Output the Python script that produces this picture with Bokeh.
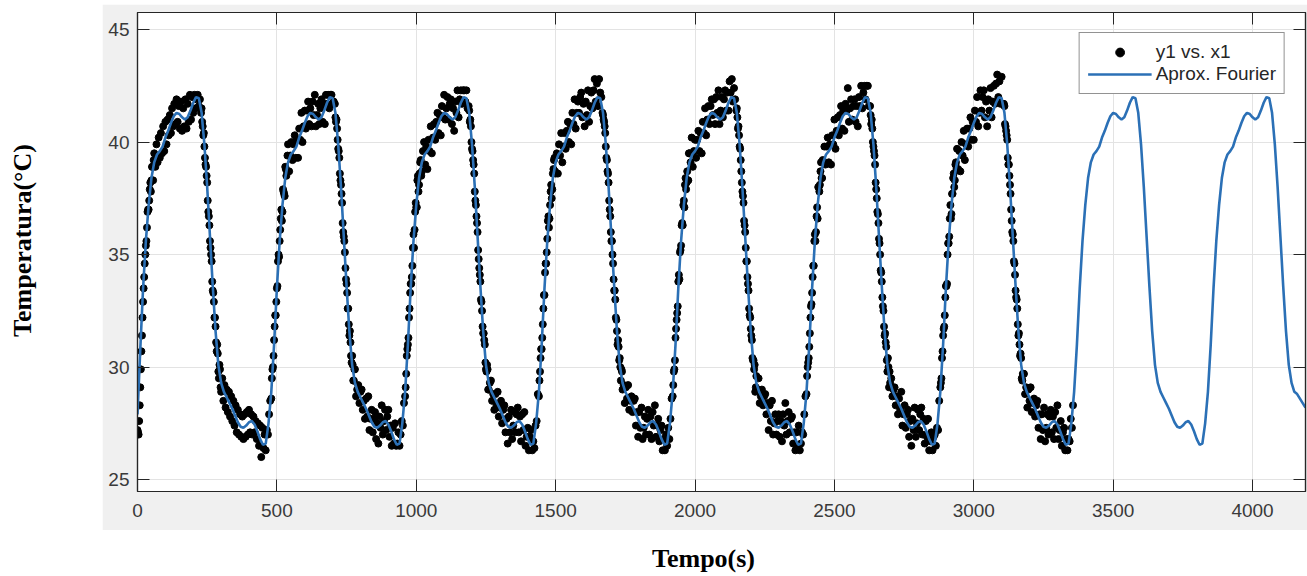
from bokeh.plotting import figure
from bokeh.models import Label, Legend, LegendItem, LinearAxis, FixedTicker, Spacer, Range1d
from bokeh.layouts import row, column
from bokeh.embed import file_html
from bokeh.resources import INLINE

# ---------------- data ----------------
x_ticks = [0, 500, 1000, 1500, 2000, 2500, 3000, 3500, 4000]
y_ticks = [25, 30, 35, 40, 45]

# measured samples (y1 vs. x1), one sample every 4 s
x1 = list(range(0, 3360, 4))
y1 = [
    # cycle 1
    27.2, 27.0, 28.3, 29.9, 31.4, 32.9, 34.0, 35.0, 35.6, 36.9, 37.0, 37.9, 37.8, 38.9, 38.3, 39.5, 38.9, 39.9, 39.1, 40.2,
    39.3, 40.4, 39.5, 40.7, 39.6, 40.9, 39.9, 41.0, 40.3, 41.2, 40.4, 41.5, 40.7, 41.7, 40.8, 41.9, 40.9, 41.6, 40.6, 41.8,
    40.5, 41.5, 40.7, 41.9, 40.6, 41.7, 40.9, 42.1, 41.0, 42.0, 41.3, 42.1, 41.5, 41.9, 42.1, 41.6, 41.9, 41.3, 40.9, 40.3,
    39.8, 39.0, 38.5, 37.4, 36.7, 35.6, 35.0, 33.8, 33.3, 32.2, 31.8, 30.7, 30.6, 29.5, 29.9, 28.9, 29.5, 28.5, 29.2, 28.2,
    29.0, 28.0, 28.9, 27.8, 28.7, 27.6, 28.5, 27.4, 28.3, 27.1, 28.1, 27.0, 27.9, 26.9, 27.8, 26.8, 27.9, 26.9, 28.0, 27.0,
    28.1, 27.1, 27.9, 27.0, 27.8, 27.1, 27.6, 26.8, 27.5, 26.5, 27.4, 26.0, 27.3, 26.4, 27.0, 26.3, 27.2, 27.0, 27.9, 28.5,
    # cycle 2
    28.6, 29.9, 30.5, 31.8, 32.3, 33.5, 34.7, 34.9, 36.1, 37.0, 36.9, 37.8, 37.6, 38.8, 38.7, 39.9, 38.7, 39.4, 40.0, 39.2,
    39.9, 40.3, 39.3, 40.1, 39.3, 40.6, 40.1, 41.3, 40.0, 40.7, 41.4, 40.6, 41.4, 41.8, 40.8, 41.5, 40.7, 41.8, 41.2, 42.1,
    40.7, 41.2, 41.7, 40.8, 41.5, 41.9, 40.9, 41.7, 40.8, 42.1, 41.7, 42.1, 41.5, 42.1, 42.1, 41.7, 41.8, 41.7, 40.9, 40.6,
    39.7, 39.3, 38.3, 37.7, 36.4, 35.8, 35.1, 33.9, 33.3, 32.6, 31.4, 31.1, 30.2, 30.1, 29.4, 29.9, 28.7, 29.0, 29.2, 28.4,
    28.9, 29.0, 28.1, 28.5, 27.7, 28.6, 27.8, 28.7, 27.2, 27.7, 28.1, 27.1, 27.7, 28.0, 26.8, 27.5, 26.6, 27.8, 27.3, 28.3,
    27.0, 27.6, 28.1, 27.2, 27.8, 28.1, 26.9, 27.4, 26.5, 27.3, 26.6, 27.5, 26.5, 26.6, 27.1, 26.5, 27.0, 27.6, 27.4, 28.4,
    # cycle 3
    28.7, 29.7, 30.8, 31.3, 32.6, 33.7, 34.0, 35.3, 35.3, 36.9, 37.1, 38.3, 37.8, 38.6, 39.2, 38.7, 39.6, 40.0, 39.0, 39.8,
    38.8, 40.1, 39.6, 40.7, 39.5, 40.2, 40.8, 40.1, 40.9, 41.3, 40.4, 41.2, 40.3, 41.6, 41.1, 42.1, 41.0, 41.5, 42.0, 41.0,
    41.7, 41.9, 40.8, 41.5, 40.5, 41.8, 41.3, 42.3, 41.1, 41.9, 42.3, 41.7, 42.3, 42.3, 41.8, 42.3, 41.5, 41.6, 40.9, 40.7,
    39.7, 39.2, 38.6, 37.4, 36.7, 36.0, 34.8, 34.1, 33.0, 32.5, 31.5, 31.2, 30.2, 29.8, 29.9, 29.0, 29.3, 29.4, 28.5, 28.8,
    28.1, 28.8, 28.3, 28.9, 27.8, 28.2, 28.5, 27.5, 28.1, 28.3, 27.1, 27.7, 26.6, 27.8, 27.1, 28.1, 26.8, 27.4, 28.0, 27.1,
    27.9, 28.2, 27.1, 27.8, 26.7, 27.9, 27.2, 28.0, 26.5, 26.9, 27.3, 26.3, 26.9, 27.2, 26.3, 26.7, 26.4, 27.4, 27.6, 28.8,
    # cycle 4
    28.7, 29.8, 30.8, 31.3, 32.6, 33.2, 34.6, 35.1, 36.5, 36.2, 37.2, 38.1, 37.9, 38.8, 39.3, 38.6, 39.5, 38.6, 39.9, 39.4,
    40.4, 39.1, 39.8, 40.4, 39.7, 40.5, 40.9, 40.0, 40.8, 39.9, 41.3, 40.8, 41.9, 40.6, 41.3, 41.8, 41.3, 42.0, 42.2, 41.1,
    41.7, 40.7, 41.8, 41.2, 42.3, 40.9, 41.6, 42.2, 41.5, 42.3, 42.8, 41.8, 42.6, 41.6, 42.8, 42.2, 42.0, 41.3, 41.0, 40.7,
    39.8, 39.2, 38.6, 37.4, 36.7, 35.6, 35.0, 33.9, 33.4, 32.2, 31.6, 31.2, 30.3, 30.0, 29.9, 29.0, 29.2, 28.4, 29.1, 28.6,
    29.2, 28.1, 28.5, 28.7, 28.0, 28.5, 28.6, 27.4, 28.0, 26.9, 28.0, 27.3, 28.2, 26.8, 27.3, 27.8, 27.0, 27.7, 28.1, 27.0,
    27.8, 26.8, 28.0, 27.4, 28.3, 26.9, 27.4, 27.7, 26.7, 27.2, 27.4, 26.3, 26.8, 26.3, 27.0, 26.5, 27.3, 26.8, 27.7, 28.6,
    # cycle 5
    28.7, 29.8, 30.3, 31.7, 32.4, 33.8, 33.9, 35.2, 36.3, 36.3, 37.4, 38.1, 37.9, 38.7, 38.3, 39.5, 39.1, 40.2, 38.9, 39.6,
    40.1, 39.3, 40.1, 40.5, 39.6, 40.4, 39.5, 40.9, 40.4, 41.5, 40.3, 41.0, 41.6, 40.8, 41.6, 41.9, 41.2, 41.9, 40.8, 42.0,
    41.3, 42.3, 40.8, 41.4, 42.0, 41.1, 41.9, 42.3, 41.4, 42.2, 41.4, 42.7, 42.2, 42.8, 41.8, 42.4, 41.9, 41.4, 41.1, 40.7,
    39.8, 39.2, 38.2, 37.6, 36.5, 36.0, 34.7, 34.0, 33.4, 32.3, 31.7, 31.2, 30.3, 29.9, 28.9, 29.6, 29.0, 29.5, 28.4, 28.7,
    29.0, 28.3, 28.7, 28.8, 27.9, 28.4, 27.2, 28.3, 27.6, 28.5, 27.0, 27.5, 27.9, 27.0, 27.6, 27.9, 26.9, 27.6, 26.7, 27.9,
    27.4, 28.4, 27.0, 27.6, 28.0, 27.1, 27.7, 27.8, 26.6, 27.1, 26.3, 27.1, 26.4, 27.4, 26.3, 26.6, 27.1, 27.0, 27.9, 28.7,
    # cycle 6
    28.8, 30.0, 30.4, 31.5, 32.7, 33.3, 34.5, 35.6, 35.6, 36.7, 36.6, 38.0, 38.1, 39.1, 38.4, 39.1, 39.8, 39.0, 39.8, 40.2,
    39.1, 39.9, 39.0, 40.3, 39.9, 41.0, 39.7, 40.5, 41.1, 40.3, 41.2, 41.6, 40.6, 41.4, 40.5, 41.7, 41.4, 42.4, 40.9, 41.5,
    41.9, 41.0, 41.6, 41.9, 40.9, 41.6, 40.7, 42.0, 41.6, 42.5, 41.5, 42.2, 42.5, 41.9, 42.5, 42.5, 41.6, 41.6, 40.8, 40.6,
    39.8, 39.4, 38.2, 37.5, 36.8, 35.7, 35.0, 34.2, 33.1, 32.5, 31.4, 31.1, 30.3, 30.4, 29.1, 29.3, 29.5, 28.7, 29.0, 29.1,
    28.3, 28.7, 27.9, 28.6, 28.1, 28.9, 27.4, 27.9, 28.3, 27.3, 27.9, 28.1, 26.9, 27.6, 26.5, 27.7, 27.2, 28.2, 26.9, 27.5,
    28.1, 27.2, 27.9, 28.2, 27.0, 27.7, 26.6, 27.6, 26.9, 27.7, 26.3, 26.7, 27.1, 26.3, 26.9, 27.0, 26.5, 27.3, 27.2, 28.5,
    # cycle 7
    29.1, 29.5, 30.7, 31.7, 32.3, 33.6, 33.7, 35.5, 35.8, 37.2, 36.8, 37.7, 38.6, 38.3, 39.1, 39.7, 38.8, 39.6, 38.7, 40.0,
    39.4, 40.5, 39.2, 39.9, 40.6, 39.8, 40.6, 41.1, 40.1, 40.9, 40.1, 41.4, 40.9, 42.0, 40.7, 41.3, 42.3, 41.4, 42.0, 42.3,
    41.1, 41.8, 40.7, 41.9, 41.4, 42.4, 41.1, 41.8, 42.5, 41.7, 42.6, 43.0, 42.0, 42.7, 41.7, 42.9, 41.7, 41.7, 40.8, 40.5,
    40.1, 39.0, 38.5, 37.7, 36.5, 35.9, 34.7, 34.1, 33.1, 32.6, 31.4, 31.0, 30.6, 29.5, 29.7, 29.7, 28.8, 29.1, 28.2, 29.0,
    28.5, 29.1, 28.0, 28.4, 28.6, 27.8, 28.3, 28.5, 27.3, 27.9, 26.8, 27.9, 27.2, 28.2, 26.7, 27.3, 27.9, 27.0, 27.8, 28.1,
    27.1, 27.8, 26.8, 28.0, 27.3, 28.3, 26.8, 27.2, 27.6, 26.5, 27.1, 27.3, 26.3, 26.8, 26.3, 26.8, 26.7, 27.7, 27.3, 28.3,
]

# extra samples read on the steep rising / falling edges (in between the 4 s samples)
x1_edges = [
    *range(2, 60, 4), *range(230, 300, 4),
    *range(482, 540, 4), *range(710, 780, 4),
    *range(962, 1020, 4), *range(1190, 1260, 4),
    *range(1442, 1500, 4), *range(1670, 1740, 4),
    *range(1922, 1980, 4), *range(2150, 2220, 4),
    *range(2402, 2460, 4), *range(2630, 2700, 4),
    *range(2882, 2940, 4), *range(3110, 3180, 4),
]
y1_edges = [
    27.1, 27.6, 29.1, 30.7, 32.2, 33.5, 34.6, 35.4, 36.2, 37.0, 37.4, 38.2, 38.3, 38.9, 39.2,
    41.5, 40.7, 40.4, 39.3, 38.9, 38.2, 36.9, 36.3, 35.3, 34.7, 33.4, 32.9, 32.2, 31.1, 31.0, 29.8, 30.1, 29.1,
    29.5, 30.0, 31.2, 32.3, 32.9, 33.6, 35.0, 35.6, 36.6, 36.5, 37.9, 37.7, 38.9, 38.5, 39.4,
    41.1, 41.0, 40.1, 39.6, 38.6, 38.1, 37.3, 36.0, 35.6, 34.4, 33.7, 32.6, 31.9, 31.6, 30.5, 30.5, 29.4, 29.9,
    29.1, 30.5, 31.0, 32.2, 33.3, 33.7, 34.5, 35.9, 36.1, 37.3, 37.1, 38.5, 38.1, 39.1, 38.5,
    41.4, 41.0, 40.0, 39.6, 39.0, 37.8, 37.2, 36.4, 35.2, 34.4, 33.8, 32.9, 31.8, 31.5, 31.0, 29.9, 30.1, 29.0,
    29.4, 30.4, 30.8, 31.9, 33.2, 34.2, 34.6, 35.7, 36.7, 36.6, 37.8, 37.5, 38.6, 39.2, 38.7,
    41.2, 40.9, 40.4, 39.3, 38.7, 38.2, 37.0, 36.0, 35.6, 34.6, 33.4, 33.0, 32.1, 31.0, 30.9, 30.4, 29.4, 29.8,
    29.2, 29.9, 31.3, 32.1, 32.7, 34.1, 35.1, 35.4, 36.4, 37.2, 37.1, 38.4, 38.2, 38.3, 39.5,
    41.5, 40.6, 40.3, 39.7, 38.7, 37.8, 37.3, 36.3, 35.3, 34.7, 33.7, 32.6, 32.2, 31.4, 30.4, 30.3, 30.1, 29.1,
    29.6, 30.2, 30.9, 32.2, 32.8, 34.0, 34.5, 35.9, 36.0, 37.1, 38.0, 37.8, 38.7, 38.4, 39.2,
    41.2, 41.0, 40.0, 39.6, 39.0, 37.9, 36.9, 36.4, 35.5, 34.3, 33.8, 32.7, 31.8, 31.5, 30.9, 29.8, 30.0, 29.8,
    29.3, 30.4, 31.4, 31.8, 33.1, 33.6, 35.0, 35.5, 36.6, 36.6, 37.7, 38.4, 38.0, 39.0, 38.8,
    41.6, 40.7, 40.3, 39.3, 39.0, 38.1, 37.0, 36.0, 35.6, 34.6, 33.4, 33.0, 31.9, 31.5, 30.5, 30.4, 29.4, 29.7,
]

# Fourier approximation, one value every 10 s
t_fourier = list(range(0, 4200, 10))
T_fourier = [
    27.9, 30.8, 33.5, 35.6, 37.2, 38.4, 39.1, 39.45, 39.6, 39.8, 40.2, 40.5, 40.85, 41.15, 41.3, 41.25, 41.1, 41.0, 41.1, 41.4, 41.75, 42.0, 41.95, 41.3,
    39.9, 38.0, 35.8, 33.6, 31.6, 30.1, 29.3, 28.9, 28.65, 28.4, 28.15, 27.85, 27.55, 27.35, 27.3, 27.4, 27.55, 27.6, 27.45, 27.15, 26.8, 26.55, 26.6, 27.5,
    28.9, 31.0, 33.5, 35.6, 37.2, 38.4, 39.1, 39.45, 39.6, 39.8, 40.2, 40.5, 40.85, 41.15, 41.3, 41.25, 41.1, 41.0, 41.1, 41.4, 41.75, 42.0, 41.95, 41.3,
    39.9, 38.0, 35.8, 33.6, 31.6, 30.1, 29.3, 28.9, 28.65, 28.4, 28.15, 27.85, 27.55, 27.35, 27.3, 27.4, 27.55, 27.6, 27.45, 27.15, 26.8, 26.55, 26.6, 27.5,
    28.9, 31.0, 33.5, 35.6, 37.2, 38.4, 39.1, 39.45, 39.6, 39.8, 40.2, 40.5, 40.85, 41.15, 41.3, 41.25, 41.1, 41.0, 41.1, 41.4, 41.75, 42.0, 41.95, 41.3,
    39.9, 38.0, 35.8, 33.6, 31.6, 30.1, 29.3, 28.9, 28.65, 28.4, 28.15, 27.85, 27.55, 27.35, 27.3, 27.4, 27.55, 27.6, 27.45, 27.15, 26.8, 26.55, 26.6, 27.5,
    28.9, 31.0, 33.5, 35.6, 37.2, 38.4, 39.1, 39.45, 39.6, 39.8, 40.2, 40.5, 40.85, 41.15, 41.3, 41.25, 41.1, 41.0, 41.1, 41.4, 41.75, 42.0, 41.95, 41.3,
    39.9, 38.0, 35.8, 33.6, 31.6, 30.1, 29.3, 28.9, 28.65, 28.4, 28.15, 27.85, 27.55, 27.35, 27.3, 27.4, 27.55, 27.6, 27.45, 27.15, 26.8, 26.55, 26.6, 27.5,
    28.9, 31.0, 33.5, 35.6, 37.2, 38.4, 39.1, 39.45, 39.6, 39.8, 40.2, 40.5, 40.85, 41.15, 41.3, 41.25, 41.1, 41.0, 41.1, 41.4, 41.75, 42.0, 41.95, 41.3,
    39.9, 38.0, 35.8, 33.6, 31.6, 30.1, 29.3, 28.9, 28.65, 28.4, 28.15, 27.85, 27.55, 27.35, 27.3, 27.4, 27.55, 27.6, 27.45, 27.15, 26.8, 26.55, 26.6, 27.5,
    28.9, 31.0, 33.5, 35.6, 37.2, 38.4, 39.1, 39.45, 39.6, 39.8, 40.2, 40.5, 40.85, 41.15, 41.3, 41.25, 41.1, 41.0, 41.1, 41.4, 41.75, 42.0, 41.95, 41.3,
    39.9, 38.0, 35.8, 33.6, 31.6, 30.1, 29.3, 28.9, 28.65, 28.4, 28.15, 27.85, 27.55, 27.35, 27.3, 27.4, 27.55, 27.6, 27.45, 27.15, 26.8, 26.55, 26.6, 27.5,
    28.9, 31.0, 33.5, 35.6, 37.2, 38.4, 39.1, 39.45, 39.6, 39.8, 40.2, 40.5, 40.85, 41.15, 41.3, 41.25, 41.1, 41.0, 41.1, 41.4, 41.75, 42.0, 41.95, 41.3,
    39.9, 38.0, 35.8, 33.6, 31.6, 30.1, 29.3, 28.9, 28.65, 28.4, 28.15, 27.85, 27.55, 27.35, 27.3, 27.4, 27.55, 27.6, 27.45, 27.15, 26.8, 26.55, 26.6, 27.5,
    28.9, 31.0, 33.5, 35.6, 37.2, 38.4, 39.1, 39.45, 39.6, 39.8, 40.2, 40.5, 40.85, 41.15, 41.3, 41.25, 41.1, 41.0, 41.1, 41.4, 41.75, 42.0, 41.95, 41.3,
    39.9, 38.0, 35.8, 33.6, 31.6, 30.1, 29.3, 28.9, 28.65, 28.4, 28.15, 27.85, 27.55, 27.35, 27.3, 27.4, 27.55, 27.6, 27.45, 27.15, 26.8, 26.55, 26.6, 27.5,
    28.9, 31.0, 33.5, 35.6, 37.2, 38.4, 39.1, 39.45, 39.6, 39.8, 40.2, 40.5, 40.85, 41.15, 41.3, 41.25, 41.1, 41.0, 41.1, 41.4, 41.75, 42.0, 41.95, 41.3,
    39.9, 38.0, 35.8, 33.6, 31.6, 30.1, 29.3, 28.9, 28.8, 28.6, 28.4, 28.2,
]

legend_labels = ["y1 vs. x1", "Aprox. Fourier"]
x_title = "Tempo(s)"
y_title = "Temperatura(°C)"

# ---------------- styles ----------------
AX = "#262626"
TICK_FONT = "Liberation Sans"
BLUE = "#2b70b6"

p = figure(width=1205, height=526, x_range=Range1d(0, 4190), y_range=Range1d(24.47, 45.76),
           output_backend="svg", toolbar_location=None,
           min_border_left=35, min_border_right=2, min_border_top=8, min_border_bottom=39,
           background_fill_color="white", border_fill_color="#f0f0f0")
p.outline_line_color = AX
p.outline_line_width = 1.2

for ax, ticks in ((p.xaxis[0], x_ticks), (p.yaxis[0], y_ticks)):
    ax.ticker = FixedTicker(ticks=ticks)
    ax.major_tick_in = 12
    ax.major_tick_out = 0
    ax.minor_tick_line_color = None
    ax.axis_line_color = AX
    ax.axis_line_width = 1.2
    ax.major_tick_line_color = AX
    ax.major_label_text_font = TICK_FONT
    ax.major_label_text_font_size = "19px"
    ax.major_label_text_color = "#3a3a3a"
p.xaxis[0].major_label_standoff = 12
p.yaxis[0].major_label_standoff = 8

p.xgrid.ticker = FixedTicker(ticks=x_ticks)
p.ygrid.ticker = FixedTicker(ticks=y_ticks)
p.grid.grid_line_color = "#e3e3e3"
p.grid.grid_line_width = 1

# box ticks on the top and right sides (no labels there)
for loc, ticks in (("above", x_ticks), ("right", y_ticks)):
    extra = LinearAxis(ticker=FixedTicker(ticks=ticks), major_label_text_font_size="0px",
                       major_label_standoff=0, major_tick_in=12, major_tick_out=0,
                       minor_tick_line_color=None, axis_line_color=AX, axis_line_width=1.2,
                       major_tick_line_color=AX)
    p.add_layout(extra, loc)

pts_x = x1 + x1_edges
pts_y = y1 + y1_edges
r_pts = p.scatter(pts_x, pts_y, size=7, color="black", marker="circle")
r_line = p.line(t_fourier, T_fourier, line_color=BLUE, line_width=2.6)

legend = Legend(items=[LegendItem(label=legend_labels[0], renderers=[r_pts]),
                       LegendItem(label=legend_labels[1], renderers=[r_line])],
                location="top_right")
legend.margin = 20
legend.padding = 8
legend.spacing = 0
legend.glyph_width = 64
legend.glyph_height = 22
legend.label_height = 22
legend.label_standoff = 4
legend.label_text_font = TICK_FONT
legend.label_text_font_size = "19px"
legend.label_text_color = AX
legend.border_line_color = AX
legend.border_line_width = 1
legend.background_fill_color = "white"
legend.background_fill_alpha = 1
p.add_layout(legend)

# side label panels (white, outside the grey figure area)
fy = figure(width=102, height=530, x_range=Range1d(0, 102), y_range=Range1d(0, 530),
            output_backend="svg", toolbar_location=None, x_axis_type=None, y_axis_type=None,
            min_border_left=0, min_border_right=0, min_border_top=0, min_border_bottom=0,
            outline_line_color=None, background_fill_color="white", border_fill_color="white")
fy.add_layout(Label(x=22, y=290, text=y_title, angle=90, angle_units="deg",
                    text_align="center", text_baseline="middle",
                    text_font="Liberation Serif", text_font_style="bold",
                    text_font_size="26px", text_color="black"))

fx = figure(width=1307, height=46, x_range=Range1d(0, 1307), y_range=Range1d(0, 46),
            output_backend="svg", toolbar_location=None, x_axis_type=None, y_axis_type=None,
            min_border_left=0, min_border_right=0, min_border_top=0, min_border_bottom=0,
            outline_line_color=None, background_fill_color="white", border_fill_color="white")
fx.add_layout(Label(x=703, y=18, text=x_title,
                    text_align="center", text_baseline="middle",
                    text_font="Liberation Serif", text_font_style="bold",
                    text_font_size="26px", text_color="black"))

layout = column(row(fy, column(Spacer(width=1205, height=4), p)), fx)

open("out.html", "w").write(file_html(layout, INLINE))
